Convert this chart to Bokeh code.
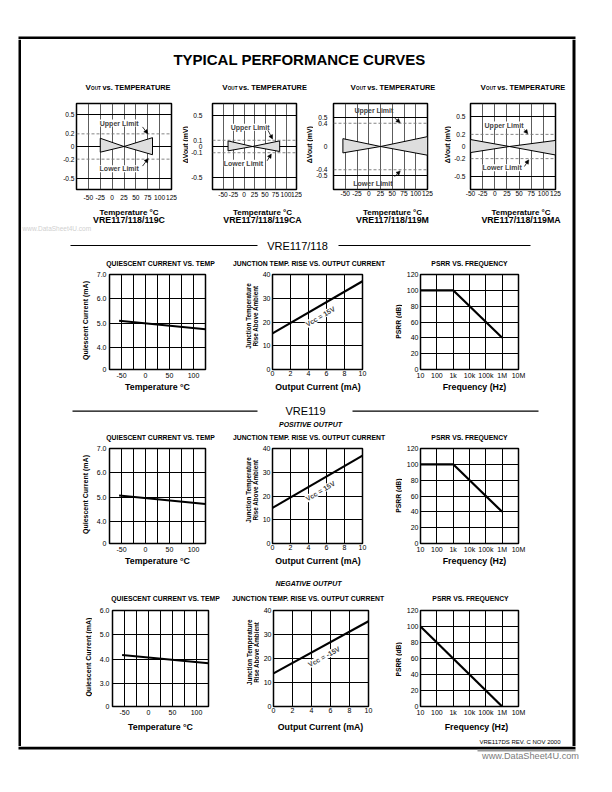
import math
from bokeh.plotting import figure
from bokeh.models import Range1d, FixedTicker, Label, Span, Arrow, NormalHead
from bokeh.layouts import row, column
from bokeh.embed import file_html
from bokeh.resources import INLINE
from bokeh.core.properties import value

SANS = "Liberation Sans"

# ---------------- data ----------------
# VOUT vs. TEMPERATURE (top row), delta Vout in mV
vt_grades = ["VRE117/118/119C", "VRE117/118/119CA", "VRE117/118/119M", "VRE117/118/119MA"]
vt_temp_labels = [-50, -25, 0, 25, 50, 75, 100, 125]
vt_temp_min = [-75, -75, -75, -50]
vt_temp_max = [125, 125, 125, 125]
vt_mv_span = [0.68, 0.69, 0.74, 0.71]
vt_limit_mv = [0.2, 0.1, 0.4, 0.2]
vt_grid_mv = [0.5, 0.5, 0.5, 0.5]
vt_t_low = [-25, -38, -55, -50]
vt_t_cross = [25, 20, 25, 30]
vt_t_high = [85, 85, 125, 125]
vt_upper_low = [0.13, 0.09, 0.135, 0.115]
vt_lower_low = [-0.09, -0.07, -0.11, -0.10]
vt_upper_high = [0.14, 0.09, 0.17, 0.10]
vt_lower_high = [-0.13, -0.08, -0.15, -0.14]

# Quiescent current vs. temperature
q_temp_c = [-55, 125]
q_ma_vre117 = [5.10, 4.75]
q_ma_vre119_pos = [5.07, 4.72]
q_ma_vre119_neg = [4.17, 3.83]
q_temp_ticks = [-50, 0, 50, 100]
q_ma_ticks_pos = [4.0, 5.0, 6.0, 7.0]
q_ma_ticks_neg = [3.0, 4.0, 5.0, 6.0]
q_break_pos = 3.1     # axis break: bottom edge labelled "0"
q_break_neg = 2.05

# Junction temperature rise vs. output current
j_out_ma = [0, 10]
j_rise_vre117 = [15.2, 37.2]
j_rise_vre119_pos = [15.0, 37.0]
j_rise_vre119_neg = [13.8, 35.5]
j_ma_ticks = [0, 2, 4, 6, 8, 10]
j_rise_ticks = [0, 10, 20, 30, 40]

# PSRR vs. frequency
psrr_hz_pos = [10, 1000, 1000000]
psrr_db_pos = [100, 100, 40]
psrr_hz_neg = [10, 1000000]
psrr_db_neg = [100, 0]
psrr_hz_ticks = [10, 100, 1000, 10000, 100000, 1000000, 10000000]
psrr_hz_labels = ["10", "100", "1k", "10k", "100k", "1M", "10M"]
psrr_db_ticks = [0, 20, 40, 60, 80, 100, 120]


# ---------------- helpers ----------------
def new_chart(figbox, frame, xr, yr, x_axis_type="linear"):
    fx0, fy0, fx1, fy1 = figbox
    ax0, ay0, ax1, ay1 = frame
    p = figure(width=fx1 - fx0, height=fy1 - fy0, x_range=xr, y_range=yr,
               x_axis_type=x_axis_type, output_backend="svg", toolbar_location=None,
               min_border_left=ax0 - fx0, min_border_right=fx1 - ax1,
               min_border_top=ay0 - fy0, min_border_bottom=fy1 - ay1)
    p.outline_line_color = "black"
    p.outline_line_width = 1.5
    p.background_fill_color = "white"
    p.border_fill_color = "white"
    for ax in list(p.xaxis) + list(p.yaxis):
        ax.axis_line_color = None
        ax.major_tick_line_color = None
        ax.minor_tick_line_color = None
        ax.major_tick_out = 0
        ax.major_tick_in = 0
        ax.minor_tick_out = 0
        ax.minor_tick_in = 0
        ax.major_label_text_font = SANS
        ax.major_label_text_font_size = "7px"
        ax.major_label_text_color = "black"
    p.grid.grid_line_color = "black"
    p.grid.grid_line_width = 1
    return p


def band(x0, y0, x1, y1):
    p = figure(width=x1 - x0, height=y1 - y0, x_range=Range1d(x0, x1),
               y_range=Range1d(y1, y0), x_axis_type=None, y_axis_type=None,
               output_backend="svg", toolbar_location=None, min_border=0)
    p.outline_line_color = None
    p.background_fill_color = "white"
    p.border_fill_color = "white"
    return p


def btext(p, x, y, text, size, style="bold", color="black", align="center", angle=0.0):
    p.text(x=[x], y=[y], text=[text], text_font=value(SANS), text_font_size=f"{size}px",
           text_font_style=style, text_color=color, text_align=align,
           text_baseline="middle", angle=angle)


def fmt_mv(v):
    return "0" if v == 0 else f"{v:g}"


# ---------------- top row: VOUT vs TEMPERATURE ----------------
# (figure box, frame box) in page pixels
rowA_geom = [
    ((21, 96, 178, 204), (76, 103, 171, 189)),
    ((188, 96, 302, 204), (211, 102, 296, 192)),
    ((313, 96, 437, 204), (331, 101, 427, 193)),
    ((451, 96, 570, 204), (468, 102, 555, 193)),
]
rowA_yband = [None, (178, 188, 184.5), (302, 313, 308.5), (437, 451, 446.5)]
vt_title_x = [(85, 90.6, 102), (221.7, 227.3, 238.3), (350, 355.6, 366.7), (480, 485.6, 496.7)]
vt_xlabel_cx = [128.5, 262, 392, 520.5]
vt_ytick_standoff = [2, 10, 6, 5]
vt_xtick_standoff = [5, 2, 1, 1]
vt_upper_text = [(17, 0.37), (17, 0.31), (13, 0.62), (21, 0.355)]
vt_lower_text = [(17, -0.35), (1, -0.27), (11, -0.645), (17, -0.35)]
vt_upper_arrow = [((64, 0.31), (75, 0.2)), ((57, 0.26), (68, 0.12)),
                  ((55, 0.49), (67, 0.41)), ((61, 0.28), (68, 0.21))]
vt_lower_arrow = [((64, -0.31), (76, -0.19)), ((55, -0.23), (65, -0.12)),
                  ((55, -0.52), (67, -0.42)), ((61, -0.33), (70, -0.22))]


def vt_chart(i):
    figbox, frame = rowA_geom[i]
    span = vt_mv_span[i]
    p = new_chart(figbox, frame, Range1d(vt_temp_min[i], vt_temp_max[i]), Range1d(-span, span))
    for ax in list(p.xaxis) + list(p.yaxis):
        ax.major_label_text_font_size = "6.6px"
    p.xaxis.ticker = FixedTicker(ticks=vt_temp_labels)
    p.xaxis.major_label_overrides = {t: str(t) for t in vt_temp_labels}
    p.xaxis.major_label_standoff = vt_xtick_standoff[i]
    p.xgrid.ticker = FixedTicker(ticks=list(range(vt_temp_min[i], vt_temp_max[i] + 1, 25)))
    p.xgrid.grid_line_color = "#333333"
    p.xgrid.grid_line_width = 0.8
    g, lim = vt_grid_mv[i], vt_limit_mv[i]
    yt = [g, lim, 0, -lim, -g]
    p.yaxis.ticker = FixedTicker(ticks=yt)
    p.yaxis.major_label_overrides = {v: fmt_mv(v) for v in yt}
    p.yaxis.major_label_standoff = vt_ytick_standoff[i]
    p.ygrid.ticker = FixedTicker(ticks=[g, -g] if i == 2 else [g, 0, -g])
    p.ygrid.grid_line_width = 1.2 if i == 2 else 1
    for s in (lim, -lim):
        p.add_layout(Span(location=s, dimension="width", line_color="#777777",
                          line_dash="3 2", line_width=0.9))
    xs = [vt_t_low[i], vt_t_cross[i], vt_t_high[i], vt_t_high[i], vt_t_cross[i], vt_t_low[i]]
    ys = [vt_upper_low[i], 0, vt_upper_high[i], vt_lower_high[i], 0, vt_lower_low[i]]
    p.patch(xs, ys, fill_color="#dedede", line_color="black", line_width=1)
    for (tx, ty), txt in ((vt_upper_text[i], "Upper  Limit"), (vt_lower_text[i], "Lower  Limit")):
        p.add_layout(Label(x=tx, y=ty, text=txt, text_font=SANS, text_font_size="7px",
                           text_font_style="bold", text_align="center", text_baseline="middle",
                           background_fill_color="white" if i != 2 else None))
    for (a, b) in (vt_upper_arrow[i], vt_lower_arrow[i]):
        p.add_layout(Arrow(end=NormalHead(size=4, fill_color="black", line_color="black", line_width=0.5),
                           x_start=a[0], y_start=a[1], x_end=b[0], y_end=b[1],
                           line_color="black", line_width=0.8))
    return p


def rowA_tiles():
    tiles = []
    for i in range(4):
        yb = rowA_yband[i]
        if yb is not None:
            x0, x1, lx = yb
            b = band(x0, 96, x1, 204)
            btext(b, lx, 146.5, "ΔVout  (mV)", 6.9, angle=math.pi / 2)
            tiles.append(b)
        tiles.append(vt_chart(i))
    return row(*tiles)


# ---------------- rows of three charts ----------------
rc_geom = {
    "B": dict(fig_y=(270, 381),
              q_frame=(109, 274, 205, 369), j_frame=(271, 274, 362, 371), p_frame=(420, 273, 518, 369),
              band_t=(256, 270), band_x=(381, 400),
              title_y=263.3, title_cx=(160, 308.5, 469),
              xlabel_y=386.7, xlabel_cx=(157, 317.5, 474),
              ylabel_x=(85, 248, 255, 398)),
    "C": dict(fig_y=(444, 555),
              q_frame=(109, 448, 205, 543), j_frame=(271, 448, 362, 545), p_frame=(420, 447, 518, 543),
              band_t=(430, 444), band_x=(555, 570),
              title_y=437.0, title_cx=(160, 308.5, 469),
              xlabel_y=560.7, xlabel_cx=(157, 317.5, 474),
              ylabel_x=(85, 248, 255, 398)),
    "D": dict(fig_y=(604, 719),
              q_frame=(112, 609, 208, 706), j_frame=(273, 610, 368, 706), p_frame=(420, 610, 518, 707),
              band_t=(590, 604), band_x=(719, 735),
              title_y=598.3, title_cx=(165, 307.5, 470),
              xlabel_y=726.7, xlabel_cx=(160, 320, 476),
              ylabel_x=(88, 249, 256, 398)),
}
rc_tiles_x = dict(q_band=(21, 92), q_fig=(92, 228), j_band=(228, 259), j_fig=(259, 390),
                  p_band=(390, 402), p_fig=(402, 570))


def q_chart(key, q_ma, ticks, brk):
    g = rc_geom[key]
    fx, fy = rc_tiles_x["q_fig"], g["fig_y"]
    p = new_chart((fx[0], fy[0], fx[1], fy[1]), g["q_frame"], Range1d(-75, 125), Range1d(brk, ticks[-1]))
    p.xaxis.ticker = FixedTicker(ticks=q_temp_ticks)
    p.xaxis.major_label_overrides = {t: str(t) for t in q_temp_ticks}
    p.xgrid.ticker = FixedTicker(ticks=list(range(-75, 126, 25)))
    yt = [brk] + ticks
    p.yaxis.ticker = FixedTicker(ticks=yt)
    p.yaxis.major_label_overrides = {brk: "0", **{t: f"{t:.1f}" for t in ticks}}
    p.ygrid.ticker = FixedTicker(ticks=ticks)
    p.xaxis.major_label_standoff = 3
    p.yaxis.major_label_standoff = 3
    p.line(q_temp_c, q_ma, line_color="black", line_width=2)
    return p


def j_chart(key, rise, vcc_text):
    g = rc_geom[key]
    fx, fy = rc_tiles_x["j_fig"], g["fig_y"]
    frame = g["j_frame"]
    p = new_chart((fx[0], fy[0], fx[1], fy[1]), frame, Range1d(j_ma_ticks[0], j_ma_ticks[-1]),
                  Range1d(j_rise_ticks[0], j_rise_ticks[-1]))
    p.xaxis.ticker = FixedTicker(ticks=j_ma_ticks)
    p.yaxis.ticker = FixedTicker(ticks=j_rise_ticks)
    p.xaxis.major_label_standoff = 1
    p.yaxis.major_label_standoff = 2
    p.line(j_out_ma, rise, line_color="black", line_width=2.2)
    ax0, ay0, ax1, ay1 = frame
    px_x = (ax1 - ax0) / (j_ma_ticks[-1] - j_ma_ticks[0])
    px_y = (ay1 - ay0) / (j_rise_ticks[-1] - j_rise_ticks[0])
    ang = math.atan2((rise[1] - rise[0]) * px_y, (j_out_ma[1] - j_out_ma[0]) * px_x)
    xm = 5.5
    ym = rise[0] + (rise[1] - rise[0]) * xm / 10 - 4.6
    p.add_layout(Label(x=xm, y=ym, text=vcc_text, angle=ang, text_font=SANS,
                       text_font_size="7px", text_font_style="bold", text_align="center",
                       text_baseline="middle", background_fill_color="white"))
    return p


def p_chart(key, hz, db):
    g = rc_geom[key]
    fx, fy = rc_tiles_x["p_fig"], g["fig_y"]
    p = new_chart((fx[0], fy[0], fx[1], fy[1]), g["p_frame"],
                  Range1d(psrr_hz_ticks[0], psrr_hz_ticks[-1]),
                  Range1d(psrr_db_ticks[0], psrr_db_ticks[-1]), x_axis_type="log")
    p.xaxis.ticker = FixedTicker(ticks=psrr_hz_ticks)
    p.xaxis.major_label_overrides = dict(zip(psrr_hz_ticks, psrr_hz_labels))
    p.xgrid.ticker = FixedTicker(ticks=psrr_hz_ticks)
    p.yaxis.ticker = FixedTicker(ticks=psrr_db_ticks)
    p.xaxis.major_label_standoff = 2
    p.yaxis.major_label_standoff = 2
    p.line(hz, db, line_color="black", line_width=2.2)
    return p


def chart_row(key, q_args, j_args, p_args):
    g = rc_geom[key]
    tb = band(21, g["band_t"][0], 570, g["band_t"][1])
    for cx, txt in zip(g["title_cx"], ["QUIESCENT CURRENT VS. TEMP",
                                       "JUNCTION TEMP. RISE VS. OUTPUT CURRENT",
                                       "PSRR VS. FREQUENCY"]):
        btext(tb, cx, g["title_y"], txt, 6.8)
    xb = band(21, g["band_x"][0], 570, g["band_x"][1])
    for cx, txt in zip(g["xlabel_cx"], ["Temperature °C", "Output Current (mA)", "Frequency (Hz)"]):
        btext(xb, cx, g["xlabel_y"], txt, 8.8)

    y0, y1 = g["fig_y"]
    qx, jx1, jx2, px = g["ylabel_x"]
    qf, jf, pf = g["q_frame"], g["j_frame"], g["p_frame"]
    qb = band(rc_tiles_x["q_band"][0], y0, rc_tiles_x["q_band"][1], y1)
    btext(qb, qx, (qf[1] + qf[3]) / 2, "Quiescent  Current  (mA)", 7, angle=math.pi / 2)
    jb = band(rc_tiles_x["j_band"][0], y0, rc_tiles_x["j_band"][1], y1)
    jc = (jf[1] + jf[3]) / 2 - 4
    btext(jb, jx1, jc, "Junction Temperature", 6.3, angle=math.pi / 2)
    btext(jb, jx2, jc, "Rise Above Ambient", 6.3, angle=math.pi / 2)
    pb = band(rc_tiles_x["p_band"][0], y0, rc_tiles_x["p_band"][1], y1)
    btext(pb, px, (pf[1] + pf[3]) / 2 + 3, "PSRR  (dB)", 6.8, angle=math.pi / 2)

    charts = row(qb, q_chart(key, *q_args), jb, j_chart(key, *j_args), pb, p_chart(key, *p_args))
    return column(tb, charts, xb)


# ---------------- page decorations ----------------
top_strip = band(0, 0, 604, 39)
top_strip.quad(left=[18], right=[575], top=[36], bottom=[39], fill_color="black", line_color=None)

left_strip = band(0, 39, 21, 746)
left_strip.quad(left=[18], right=[21], top=[39], bottom=[746], fill_color="black", line_color=None)

right_strip = band(570, 39, 604, 746)
right_strip.quad(left=[572], right=[575], top=[39], bottom=[746], fill_color="black", line_color=None)

bottom_strip = band(0, 746, 604, 784)
bottom_strip.quad(left=[18], right=[575], top=[746], bottom=[749], fill_color="black", line_color=None)
bottom_strip.quad(left=[477], right=[575], top=[749], bottom=[751], fill_color="#9a9a9a", line_color=None)
btext(bottom_strip, 530, 755.7, "www.DataSheet4U.com", 9.2, style="normal", color="#7a7a7a")

title_band = band(21, 39, 570, 76)
btext(title_band, 299, 59, "TYPICAL PERFORMANCE CURVES", 15)

# row A title and x-label bands
tA = band(21, 76, 570, 96)
for xv, xo, xs_ in vt_title_x:
    btext(tA, xv, 86.7, "V", 8, align="left")
    btext(tA, xo, 88.4, "OUT", 4.6, align="left")
    btext(tA, xs_, 86.7, "vs. TEMPERATURE", 7.4, align="left")
xA = band(21, 204, 570, 233)
for cx, grade in zip(vt_xlabel_cx, vt_grades):
    btext(xA, cx, 211.6, "Temperature °C", 8)
    btext(xA, cx, 219.6, grade, 8.8)
btext(xA, 22, 228, "www.DataSheet4U.com", 6.5, style="normal", color="#d0d0d0", align="left")
rowA = column(tA, rowA_tiles(), xA)

h1 = band(21, 233, 570, 256)
h1.segment(x0=[70, 338], y0=[245, 245], x1=[257, 530], y1=[245, 245], line_color="black", line_width=1.2)
btext(h1, 297, 245, "VRE117/118", 11, style="normal")

h2 = band(21, 400, 570, 430)
h2.segment(x0=[72, 352], y0=[410.7, 410.7], x1=[257, 538], y1=[410.7, 410.7],
           line_color="black", line_width=1.2)
btext(h2, 305, 410.5, "VRE119", 11, style="normal")
btext(h2, 310, 424, "POSITIVE OUTPUT", 7, style="bold italic")

h3 = band(21, 570, 570, 590)
btext(h3, 308, 582.7, "NEGATIVE OUTPUT", 7, style="bold italic")

foot = band(21, 735, 570, 746)
btext(foot, 519.5, 740.7, "VRE117DS REV. C NOV 2000", 6, style="normal")

rowB = chart_row("B", (q_ma_vre117, q_ma_ticks_pos, q_break_pos),
                 (j_rise_vre117, "Vcc  =  15V"), (psrr_hz_pos, psrr_db_pos))
rowC = chart_row("C", (q_ma_vre119_pos, q_ma_ticks_pos, q_break_pos),
                 (j_rise_vre119_pos, "Vcc  =  15V"), (psrr_hz_pos, psrr_db_pos))
rowD = chart_row("D", (q_ma_vre119_neg, q_ma_ticks_neg, q_break_neg),
                 (j_rise_vre119_neg, "Vcc  =  -15V"), (psrr_hz_neg, psrr_db_neg))

inner = column(title_band, rowA, h1, rowB, h2, rowC, h3, rowD, foot)
root = column(top_strip, row(left_strip, inner, right_strip), bottom_strip)

open("out.html", "w").write(file_html(root, INLINE, title="VRE117 Typical Performance Curves"))
